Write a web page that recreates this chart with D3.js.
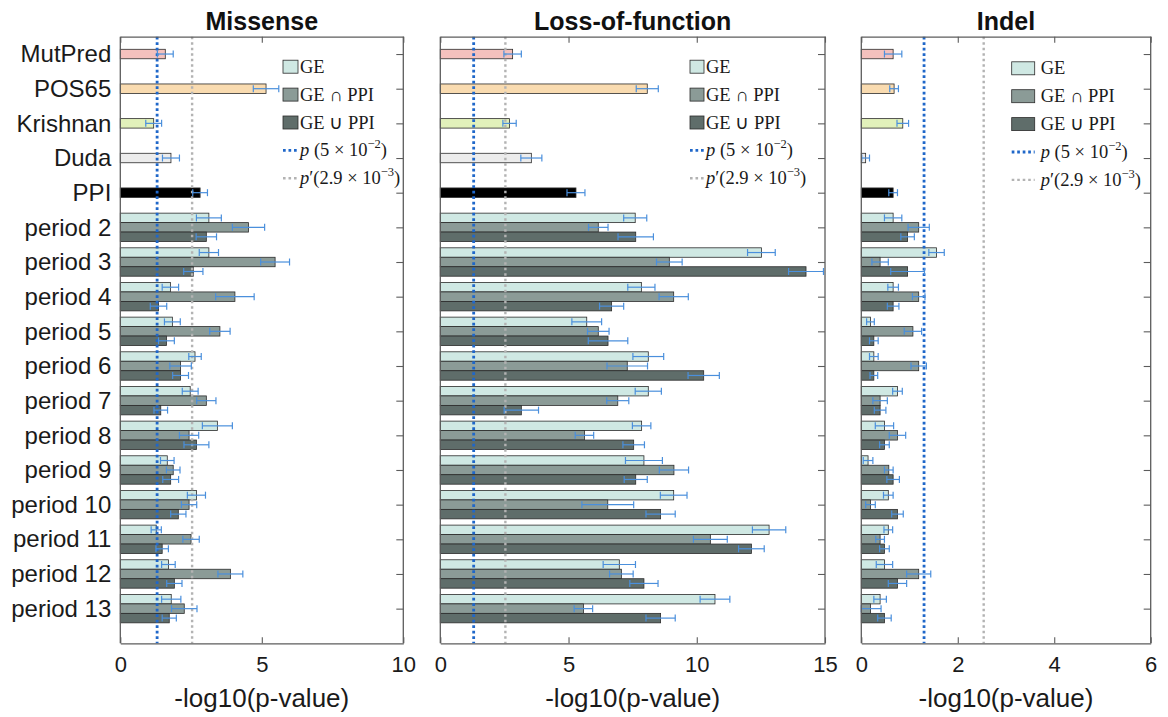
<!DOCTYPE html>
<html>
<head>
<meta charset="utf-8">
<script src="https://cdn.jsdelivr.net/npm/d3@7"></script>
<style>
  body { margin: 0; background: #fff; }
  svg { display: block; }
</style>
</head>
<body>
<svg id="chart"></svg>
<script>
// categories on the y axis
var singles = ["MutPred", "POS65", "Krishnan", "Duda", "PPI"];
var periods = ["period 2", "period 3", "period 4", "period 5", "period 6", "period 7",
               "period 8", "period 9", "period 10", "period 11", "period 12", "period 13"];
var categories = singles.concat(periods);
var singleColors = ["#f4c1bd", "#f9dbb0", "#e2f1bb", "#ececec", "#000000"];
var seriesNames = ["GE", "GE ∩ PPI", "GE ∪ PPI"];
var seriesColors = ["#cfe8e3", "#8b9b97", "#5f6d6a"];

var panelTitles = ["Missense", "Loss-of-function", "Indel"];
var xMax = [10, 15, 6];
var xTicks = [[0, 5, 10], [0, 5, 10, 15], [0, 2, 4, 6]];

// -log10(p) thresholds
var pLine = -Math.log10(5e-2);
var pPrimeLine = -Math.log10(2.9e-3);

// Missense
var misSingle = [1.59, 5.15, 1.18, 1.79, 2.82];
var misSingleErr = [0.28, 0.45, 0.28, 0.30, 0.26];
var misGE = [3.13, 3.13, 1.77, 1.84, 2.64, 2.47, 3.43, 1.66, 2.69, 1.27, 1.70, 1.80];
var misGEErr = [0.44, 0.34, 0.29, 0.28, 0.22, 0.28, 0.53, 0.24, 0.32, 0.18, 0.24, 0.34];
var misAnd = [4.53, 5.47, 4.05, 3.52, 2.13, 3.04, 2.43, 1.87, 2.43, 2.50, 3.89, 2.26];
var misAndErr = [0.57, 0.51, 0.68, 0.36, 0.38, 0.34, 0.34, 0.24, 0.27, 0.29, 0.44, 0.45];
var misOr = [3.04, 2.58, 1.35, 1.63, 2.13, 1.43, 2.69, 1.78, 2.05, 1.48, 1.91, 1.73];
var misOrErr = [0.36, 0.34, 0.29, 0.28, 0.28, 0.24, 0.44, 0.28, 0.27, 0.22, 0.27, 0.25];

// Loss-of-function
var lofSingle = [2.82, 8.07, 2.70, 3.55, 5.29];
var lofSingleErr = [0.34, 0.43, 0.26, 0.41, 0.35];
var lofGE = [7.60, 12.52, 7.84, 5.71, 8.11, 8.11, 7.85, 7.94, 9.10, 12.82, 6.98, 10.71];
var lofGEErr = [0.45, 0.54, 0.53, 0.58, 0.60, 0.51, 0.36, 0.72, 0.52, 0.65, 0.63, 0.58];
var lofAnd = [6.16, 8.93, 9.10, 6.16, 7.29, 6.92, 5.62, 9.11, 6.53, 10.53, 7.06, 5.58];
var lofAndErr = [0.38, 0.50, 0.57, 0.42, 0.79, 0.43, 0.36, 0.57, 1.01, 0.66, 0.46, 0.36];
var lofOr = [7.62, 14.26, 6.68, 6.54, 10.27, 3.16, 7.54, 7.62, 8.59, 12.13, 7.94, 8.59];
var lofOrErr = [0.69, 0.68, 0.47, 0.77, 0.61, 0.67, 0.42, 0.45, 0.57, 0.50, 0.55, 0.57];

// Indel
var indSingle = [0.66, 0.68, 0.86, 0.09, 0.66];
var indSingleErr = [0.18, 0.09, 0.12, 0.08, 0.09];
var indGE = [0.66, 1.56, 0.66, 0.19, 0.26, 0.75, 0.48, 0.14, 0.56, 0.56, 0.48, 0.39];
var indGEErr = [0.18, 0.16, 0.11, 0.08, 0.09, 0.10, 0.19, 0.10, 0.10, 0.09, 0.17, 0.13];
var indAnd = [1.19, 0.39, 1.19, 1.07, 1.19, 0.39, 0.75, 0.57, 0.19, 0.39, 1.19, 0.19];
var indAndErr = [0.22, 0.17, 0.13, 0.18, 0.16, 0.15, 0.17, 0.09, 0.10, 0.09, 0.25, 0.22];
var indOr = [0.96, 0.96, 0.66, 0.26, 0.26, 0.39, 0.48, 0.66, 0.75, 0.48, 0.75, 0.48];
var indOrErr = [0.14, 0.35, 0.12, 0.09, 0.08, 0.12, 0.10, 0.13, 0.12, 0.10, 0.19, 0.14];

var panelData = [
    { single: misSingle, singleErr: misSingleErr, series: [misGE, misAnd, misOr], errs: [misGEErr, misAndErr, misOrErr] },
    { single: lofSingle, singleErr: lofSingleErr, series: [lofGE, lofAnd, lofOr], errs: [lofGEErr, lofAndErr, lofOrErr] },
    { single: indSingle, singleErr: indSingleErr, series: [indGE, indAnd, indOr], errs: [indGEErr, indAndErr, indOrErr] }
];

var svgWidth = 1168, svgHeight = 717;
var plotTop = 36.7, plotBottom = 643.3;
var panelX = [[120.3, 403.3], [440.3, 825], [861.3, 1150.7]];
// legend placement per panel: patch x, patch width, text x, first row y
var legendPos = [
    { x: 283, w: 15, tx: 300, y0: 66.7 },
    { x: 690, w: 14, tx: 706, y0: 66.7 },
    { x: 1011.7, w: 23, tx: 1040.7, y0: 68.3 }
];

var svg = d3.select("#chart").attr("width", svgWidth).attr("height", svgHeight);

var step = (plotBottom - plotTop) / 17.5;
var yScale = d3.scalePoint()
    .domain(categories)
    .range([plotTop + step / 2, plotTop + step * 16.5]);
var subScale = d3.scaleBand()
    .domain(seriesNames)
    .range([-14.2, 14.2]);
var barH = subScale.bandwidth();

var blue = "#1f67c9", errBlue = "#4a8fdc", grey = "#b3b3b3";

panelTitles.forEach(function (title, pi) {
    var x = d3.scaleLinear().domain([0, xMax[pi]]).range(panelX[pi]);
    var d = panelData[pi];
    var g = svg.append("g");

    // bars: the five single rows, then three bars per period
    var bars = [];
    singles.forEach(function (c, i) {
        bars.push({ y: yScale(c) - barH / 2, v: d.single[i], e: d.singleErr[i], fill: singleColors[i] });
    });
    periods.forEach(function (c, i) {
        seriesNames.forEach(function (s, si) {
            bars.push({ y: yScale(c) + subScale(s), v: d.series[si][i], e: d.errs[si][i], fill: seriesColors[si] });
        });
    });

    g.selectAll("rect.bar")
        .data(bars)
        .enter()
        .append("rect")
        .attr("class", "bar")
        .attr("x", x(0))
        .attr("y", function (b) { return b.y; })
        .attr("width", function (b) { return x(b.v) - x(0); })
        .attr("height", barH)
        .attr("fill", function (b) { return b.fill; })
        .attr("stroke", "#2b2b2b")
        .attr("stroke-width", 0.8);

    // threshold lines, drawn over the bars
    g.append("line")
        .attr("x1", x(pPrimeLine)).attr("x2", x(pPrimeLine))
        .attr("y1", plotTop).attr("y2", plotBottom)
        .attr("stroke", grey).attr("stroke-width", 2.4)
        .attr("stroke-dasharray", "2.6 2.9");
    g.append("line")
        .attr("x1", x(pLine)).attr("x2", x(pLine))
        .attr("y1", plotTop).attr("y2", plotBottom)
        .attr("stroke", blue).attr("stroke-width", 2.8)
        .attr("stroke-dasharray", "2.7 2.8");

    // error bars
    var eb = g.selectAll("g.err")
        .data(bars)
        .enter()
        .append("g")
        .attr("class", "err")
        .attr("stroke", errBlue)
        .attr("stroke-width", 1.2);
    eb.append("line")
        .attr("x1", function (b) { return x(Math.max(0, b.v - b.e)); })
        .attr("x2", function (b) { return x(b.v + b.e); })
        .attr("y1", function (b) { return b.y + barH / 2; })
        .attr("y2", function (b) { return b.y + barH / 2; });
    eb.append("line")
        .attr("x1", function (b) { return x(Math.max(0, b.v - b.e)); })
        .attr("x2", function (b) { return x(Math.max(0, b.v - b.e)); })
        .attr("y1", function (b) { return b.y + barH / 2 - 3.5; })
        .attr("y2", function (b) { return b.y + barH / 2 + 3.5; });
    eb.append("line")
        .attr("x1", function (b) { return x(b.v + b.e); })
        .attr("x2", function (b) { return x(b.v + b.e); })
        .attr("y1", function (b) { return b.y + barH / 2 - 3.5; })
        .attr("y2", function (b) { return b.y + barH / 2 + 3.5; });

    // box axes with inward ticks
    var axisColor = "#5c5c5c";
    var xBottom = d3.axisBottom(x).tickValues(xTicks[pi]).tickFormat(d3.format("d"))
        .tickSizeInner(-6).tickSizeOuter(0).tickPadding(13);
    var xTop = d3.axisTop(x).tickValues(xTicks[pi]).tickSizeInner(-6).tickSizeOuter(0).tickFormat("");
    var yRight = d3.axisRight(yScale).tickSizeInner(-7).tickSizeOuter(0).tickFormat("");
    var yLeft = d3.axisLeft(yScale).tickSizeInner(0).tickSizeOuter(0).tickPadding(9);

    var gb = svg.append("g").attr("transform", "translate(0," + plotBottom + ")").call(xBottom);
    var gt = svg.append("g").attr("transform", "translate(0," + plotTop + ")").call(xTop);
    var gr = svg.append("g").attr("transform", "translate(" + panelX[pi][1] + ",0)").call(yRight);
    var gl = svg.append("g").attr("transform", "translate(" + panelX[pi][0] + ",0)").call(yLeft);
    // the point scale stops at the outer categories; stretch vertical domains to the full box
    gr.select(".domain").attr("d", "M0," + plotTop + "V" + plotBottom);
    gl.select(".domain").attr("d", "M0," + plotTop + "V" + plotBottom);
    if (pi > 0) gl.selectAll("text").remove();

    [gb, gt, gr, gl].forEach(function (a) {
        a.selectAll(".domain").attr("stroke", axisColor).attr("stroke-width", 1.3);
        a.selectAll(".tick line").attr("stroke", axisColor).attr("stroke-width", 1.1);
    });
    gb.selectAll("text")
        .attr("font-family", "Liberation Sans, Arial, sans-serif")
        .attr("font-size", 22)
        .attr("fill", "#1a1a1a");
    gl.selectAll("text")
        .attr("font-family", "Liberation Sans, Arial, sans-serif")
        .attr("font-size", 24)
        .attr("fill", "#1a1a1a");

    var cx = (panelX[pi][0] + panelX[pi][1]) / 2;
    svg.append("text")
        .attr("x", cx).attr("y", 29.5)
        .attr("text-anchor", "middle")
        .attr("font-family", "Liberation Sans, Arial, sans-serif")
        .attr("font-weight", "bold")
        .attr("font-size", 25)
        .attr("fill", "#111")
        .text(title);
    svg.append("text")
        .attr("x", cx).attr("y", 707)
        .attr("text-anchor", "middle")
        .attr("font-family", "Liberation Sans, Arial, sans-serif")
        .attr("font-size", 26)
        .attr("fill", "#1a1a1a")
        .text("-log10(p-value)");

    // legend
    var lp = legendPos[pi];
    var rowGap = 27.9;
    var lg = svg.append("g").attr("font-family", "Liberation Serif, Times New Roman, serif")
        .attr("font-size", 18.5).attr("fill", "#1a1a1a");
    seriesNames.forEach(function (s, si) {
        var yy = lp.y0 + si * rowGap;
        lg.append("rect")
            .attr("x", lp.x).attr("y", yy - 6.5)
            .attr("width", lp.w).attr("height", 13)
            .attr("fill", seriesColors[si])
            .attr("stroke", "#2b2b2b").attr("stroke-width", 0.8);
        lg.append("text").attr("x", lp.tx).attr("y", yy + 6).text(s);
    });
    var lineRows = [
        { color: blue, w: 2.8, dash: "2.7 2.8", prime: false, mant: "5", exp: "\u22122" },
        { color: grey, w: 2.4, dash: "2.6 2.9", prime: true, mant: "2.9", exp: "\u22123" }
    ];
    lineRows.forEach(function (r, ri) {
        var yy = lp.y0 + (3 + ri) * rowGap;
        lg.append("line")
            .attr("x1", lp.x).attr("x2", lp.x + lp.w)
            .attr("y1", yy).attr("y2", yy)
            .attr("stroke", r.color).attr("stroke-width", r.w)
            .attr("stroke-dasharray", r.dash);
        var t = lg.append("text").attr("x", lp.tx).attr("y", yy + 6);
        t.append("tspan").attr("font-style", "italic").text("p");
        if (r.prime) {
            t.append("tspan").text("\u2032(" + r.mant + " \u00D7 10");
        } else {
            t.append("tspan").text(" (" + r.mant + " \u00D7 10");
        }
        t.append("tspan").attr("font-size", 12.5).attr("dy", -8).text(r.exp);
        t.append("tspan").attr("dy", 8).text(")");
    });
});
</script>
</body>
</html>
